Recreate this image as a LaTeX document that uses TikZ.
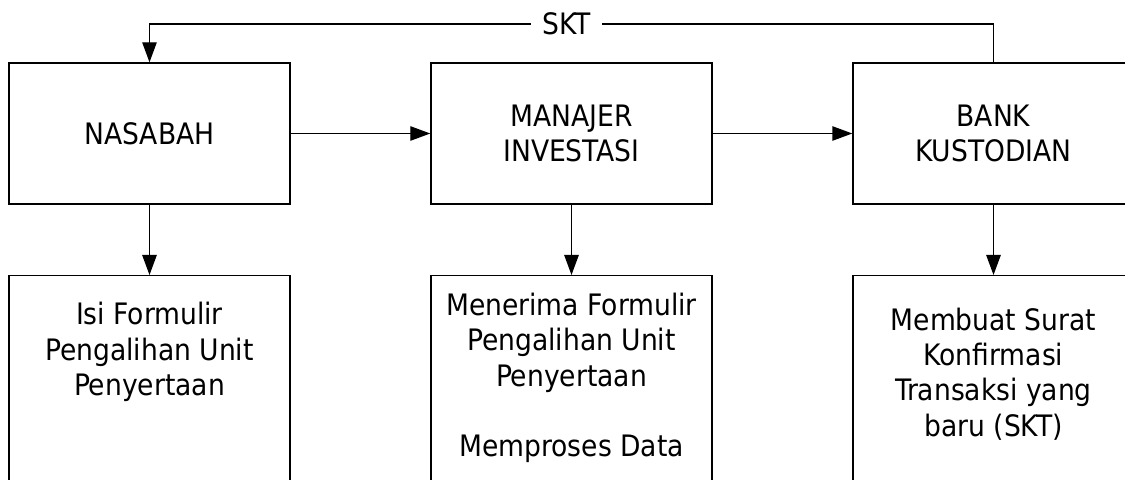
\documentclass[tikz,border=0pt]{standalone}
\usepackage{fontspec}
\setmainfont{DejaVu Sans Condensed}
\usetikzlibrary{arrows.meta}
\tikzset{
  flowbox/.style={draw, line width=1pt, minimum width=281*0.025cm, inner sep=0pt},
  flowtext/.style={align=center, font=\fontsize{21}{25}\selectfont},
  flowarrow/.style={line width=1pt, -{Triangle[length=0.5cm, width=0.36cm]}}
}
\begin{document}
\begin{tikzpicture}[x=0.025cm, y=-0.025cm]
            \clip (0,0) rectangle (1125,480);
            % top row
            \node[flowbox, minimum height=141*0.025cm] (nasabah) at (149.5,133.5) {};
            \node[flowbox, minimum height=141*0.025cm] (manajer) at (571.5,133.5) {};
            \node[flowbox, minimum height=141*0.025cm] (bank) at (993.5,133.5) {};
            \node[flowtext] (tnasabah) at (nasabah.center) {NASABAH};
            \node[flowtext] (tmanajer) at (manajer.center) {MANAJER\\INVESTASI};
            \node[flowtext] (tbank) at (bank.center) {BANK\\KUSTODIAN};
            % bottom row
            \node[flowbox, minimum height=240*0.025cm, anchor=north] (isi) at (149.5,275) {};
            \node[flowbox, minimum height=240*0.025cm, anchor=north] (terima) at (571.5,275) {};
            \node[flowbox, minimum height=240*0.025cm, anchor=north] (buat) at (993.5,275) {};
            \node[flowtext] (tisi) at (149.5,352) {Isi Formulir\\Pengalihan Unit\\Penyertaan};
            \node[flowtext] (tterima) at (571.5,378) {Menerima Formulir\\Pengalihan Unit\\Penyertaan\\[25pt]Memproses Data};
            \node[flowtext] (tbuat) at (993.5,374) {Membuat Surat\\Konfirmasi\\Transaksi yang\\baru (SKT)};
            % connectors
            \draw[flowarrow] (nasabah) -- (manajer);
            \draw[flowarrow] (manajer) -- (bank);
            \draw[flowarrow] (nasabah) -- (isi);
            \draw[flowarrow] (manajer) -- (terima);
            \draw[flowarrow] (bank) -- (buat);
            \coordinate (kanan) at (993.5,24);
            \coordinate (kiri) at (149.5,24);
            \draw[flowarrow] (bank.north) -- (kanan) -- (kiri) -- (nasabah.north);
            \node[flowtext, fill=white, inner xsep=8pt, inner ysep=2pt] (skt) at (566.5,24) {SKT};
\end{tikzpicture}
\end{document}
